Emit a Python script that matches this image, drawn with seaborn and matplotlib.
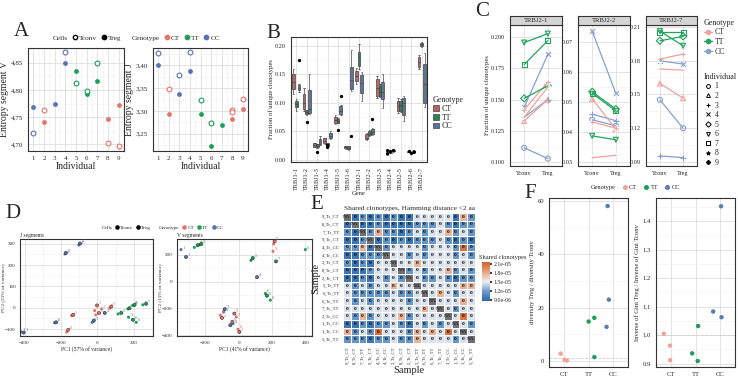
import numpy as np
import pandas as pd
import matplotlib
matplotlib.use("Agg")
import matplotlib.pyplot as plt
import seaborn as sns
from matplotlib.lines import Line2D
from matplotlib.patches import Patch
from matplotlib.ticker import FuncFormatter, AutoMinorLocator, FormatStrFormatter, NullLocator
from matplotlib.colors import LinearSegmentedColormap

sns.set_theme(style="white")
plt.rcParams['font.family'] = ['Liberation Serif', 'DejaVu Serif']

# ---------------- data ----------------
genotype_of = {1: "CC", 2: "CT", 3: "CC", 4: "CC", 5: "TT", 6: "TT", 7: "TT", 8: "CT", 9: "CT"}
genos = ["CT", "TT", "CC"]

# A: entropy per individual
a_v_ind = [1, 1, 2, 2, 3, 4, 4, 5, 5, 6, 6, 7, 7, 8, 8, 9, 9]
a_v_cells = ["Tconv", "Treg", "Tconv", "Treg", "Treg", "Tconv", "Treg", "Treg", "Tconv",
             "Tconv", "Treg", "Tconv", "Treg", "Treg", "Tconv", "Treg", "Tconv"]
a_v_val = [4.721, 4.769, 4.763, 4.742, 4.774, 4.870, 4.849, 4.835, 4.812,
           4.7985, 4.792, 4.850, 4.817, 4.747, 4.703, 4.773, 4.6975]
a_j_ind = [1, 1, 2, 2, 3, 3, 4, 4, 5, 5, 6, 6, 7, 8, 8, 8, 9, 9]
a_j_cells = ["Tconv", "Treg", "Tconv", "Treg", "Tconv", "Treg", "Tconv", "Treg", "Tconv",
             "Treg", "Tconv", "Treg", "Treg", "Tconv", "Tconv", "Treg", "Tconv", "Treg"]
a_j_val = [3.427, 3.400, 3.347, 3.293, 3.379, 3.336, 3.429, 3.387, 3.323,
           3.293, 3.274, 3.223, 3.268, 3.303, 3.298, 3.283, 3.327, 3.305]

# B: fraction of unique clonotypes per gene (min, q1, median, q3, max)
genes = ["TRBJ1-1", "TRBJ1-2", "TRBJ1-3", "TRBJ1-4", "TRBJ1-5", "TRBJ1-6", "TRBJ2-1",
         "TRBJ2-2", "TRBJ2-3", "TRBJ2-4", "TRBJ2-5", "TRBJ2-6", "TRBJ2-7"]
box_CT = [[0.116, 0.124, 0.136, 0.150, 0.160], [0.086, 0.089, 0.1005, 0.115, 0.127],
          [0.022, 0.023, 0.026, 0.029, 0.030], [0.028, 0.029, 0.033, 0.0374, 0.038],
          [0.062, 0.064, 0.070, 0.0755, 0.078], [0.019, 0.020, 0.022, 0.024, 0.025],
          [0.133, 0.139, 0.147, 0.156, 0.162], [0.034, 0.036, 0.039, 0.045, 0.047],
          [0.109, 0.112, 0.127, 0.1415, 0.148], [0.012, 0.0125, 0.013, 0.0135, 0.014],
          [0.082, 0.086, 0.095, 0.1035, 0.108], [0.013, 0.0135, 0.014, 0.0145, 0.015],
          [0.160, 0.164, 0.172, 0.180, 0.184]]
box_TT = [[0.086, 0.092, 0.098, 0.1035, 0.106], [0.079, 0.080, 0.084, 0.087, 0.088],
          [0.021, 0.0216, 0.025, 0.0275, 0.028], [0.0245, 0.0246, 0.027, 0.029, 0.0295],
          [0.064, 0.0655, 0.069, 0.0725, 0.073], [0.018, 0.0187, 0.021, 0.0245, 0.025],
          [0.159, 0.165, 0.180, 0.190, 0.203], [0.041, 0.043, 0.046, 0.051, 0.052],
          [0.110, 0.112, 0.120, 0.130, 0.133], [0.011, 0.0115, 0.012, 0.0125, 0.013],
          [0.084, 0.086, 0.097, 0.1035, 0.106], [0.011, 0.0115, 0.012, 0.0125, 0.013],
          [0.199, 0.200, 0.203, 0.206, 0.207]]
box_CC = [[0.120, 0.122, 0.127, 0.132, 0.134], [0.080, 0.083, 0.089, 0.122, 0.150],
          [0.026, 0.0275, 0.033, 0.036, 0.041], [0.036, 0.038, 0.042, 0.047, 0.051],
          [0.078, 0.080, 0.086, 0.095, 0.097], [0.121, 0.124, 0.140, 0.164, 0.193],
          [0.103, 0.118, 0.135, 0.149, 0.155], [0.044, 0.045, 0.049, 0.054, 0.055],
          [0.091, 0.1065, 0.120, 0.136, 0.150], [0.014, 0.015, 0.016, 0.017, 0.018],
          [0.068, 0.078, 0.100, 0.108, 0.112], [0.012, 0.013, 0.014, 0.015, 0.016],
          [0.092, 0.1006, 0.133, 0.168, 0.188]]
out_gene = ["TRBJ1-1", "TRBJ1-2", "TRBJ1-3", "TRBJ1-4", "TRBJ1-4", "TRBJ1-5", "TRBJ1-5", "TRBJ1-6",
            "TRBJ2-2", "TRBJ2-4", "TRBJ2-4", "TRBJ2-4", "TRBJ2-4", "TRBJ2-6", "TRBJ2-6", "TRBJ2-6", "TRBJ2-6"]
out_gen = ["CC", "TT", "TT", "TT", "TT", "TT", "CC", "CC",
           "CC", "CT", "CT", "TT", "CC", "CT", "TT", "CC", "CC"]
out_val = [0.175, 0.067, 0.014, 0.0216, 0.025, 0.0527, 0.113, 0.041,
           0.0725, 0.016, 0.010, 0.015, 0.017, 0.015, 0.012, 0.014, 0.013]

# C: fraction of unique clonotypes, Tconv vs Treg, per individual
c_ind = [1, 2, 3, 4, 5, 6, 7, 8, 9]
c_tconv = {"TRBJ2-1": [0.1116, 0.133, 0.136, 0.144, 0.151, 0.1955, 0.178, 0.136, 0.142],
           "TRBJ2-2": [0.0440, 0.0510, 0.0459, 0.0737, 0.0534, 0.0386, 0.0529, 0.0313, 0.0433],
           "TRBJ2-7": [0.1451, 0.1596, 0.0953, 0.1798, 0.1975, 0.2061, 0.2050, 0.1724, 0.1813]}
c_treg = {"TRBJ2-1": [0.103, 0.150, 0.150, 0.186, 0.161, 0.2026, 0.197, 0.160, 0.164],
          "TRBJ2-2": [0.0420, 0.0409, 0.0437, 0.0529, 0.0476, 0.0373, 0.0470, 0.0321, 0.0412],
          "TRBJ2-7": [0.1199, 0.1466, 0.0939, 0.1768, 0.2014, 0.1931, 0.2050, 0.1715, 0.1857]}

# D: PCA
dj_x = [-96, -102, -173, -178, -227, -235, -405, -420, -29, -20, -142, -133, -169, -160,
        -15, -2, 9, -9, 22, 67, 76, 40, 113, 131, 167, 176, 195, 204, 171, 195, 213, 249, 267]
dj_y = [301, 294, 257, 252, -68, -70, -116, -113, -68, -60, -37, -33, -113, -103,
        -13, 11, -24, -33, -5, -2, 6, -24, -29, -24, -5, -2, 11, 14, -44, -56, -68, 14, 19]
dj_ind = [4, 4, 3, 3, 1, 1, 1, 1, 3, 3, 2, 2, 8, 8, 9, 2, 9, 8, 2, 9, 9, 4, 5, 5, 7, 7, 6, 6, 5, 6, 6, 7, 7]
dj_cells = ["Treg", "Tconv", "Treg", "Tconv", "Treg", "Tconv", "Treg", "Tconv", "Tconv", "Treg",
            "Tconv", "Treg", "Tconv", "Treg", "Tconv", "Treg", "Treg", "Tconv", "Tconv", "Tconv",
            "Treg", "Treg", "Tconv", "Treg", "Tconv", "Treg", "Tconv", "Treg", "Tconv", "Treg",
            "Tconv", "Tconv", "Treg"]
dv_x = [-266, -246, -236, -224, -346, -316, 210, 216, 206, 74, 84, 224, 400, 110,
        160, 170, 190, -84, -90, -34, -50, -110, -100, -26, -14, -38, -4, 4]
dv_y = [255, 270, 275, 280, 238, 183, 280, 300, 225, 158, 175, 150, 238, 33,
        -88, -105, -138, -205, -225, -313, -325, -250, -270, -238, -263, -300, -355, -375]
dv_ind = [7, 7, 5, 5, 1, 1, 8, 8, 9, 5, 5, 7, 6, 4, 6, 6, 6, 3, 3, 4, 4, 2, 2, 9, 9, 8, 8, 2]
dv_cells = ["Tconv", "Treg", "Tconv", "Treg", "Tconv", "Treg", "Tconv", "Treg", "Tconv", "Tconv",
            "Treg", "Treg", "Tconv", "Treg", "Tconv", "Treg", "Tconv", "Treg", "Tconv", "Tconv",
            "Treg", "Tconv", "Treg", "Treg", "Tconv", "Treg", "Tconv", "Treg"]

# E: shared clonotypes (x 1e-6)
samples = ["9_Tr_CT", "8_Tr_CT", "7_Tr_TT", "9_Tc_CT", "4_Tr_CC", "4_Tc_CC", "2_Tr_CT", "8_Tc_CT",
           "2_Tc_CT", "5_Tr_TT", "6_Tr_TT", "6_Tc_TT", "7_Tc_TT", "3_Tr_CC", "1_Tr_CC", "1_Tc_CC", "5_Tc_TT"]
shared = [
    [np.nan, 9.5, 11.5, 9.5, 11.5, 9.5, 11.5, 9.5, 9.5, 14.5, 14.5, 14.5, 14.5, 14.5, 9.5, 17.5, 11.5],
    [9.5, np.nan, 9.5, 9.5, 11.5, 9.5, 9.5, 9.5, 9.5, 11.5, 11.5, 11.5, 14.5, 11.5, 9.5, 11.5, 11.5],
    [11.5, 9.5, np.nan, 11.5, 17.5, 11.5, 11.5, 9.5, 11.5, 14.5, 11.5, 14.5, 14.5, 17.5, 11.5, 14.5, 11.5],
    [9.5, 9.5, 11.5, np.nan, 9.5, 11.5, 9.5, 11.5, 9.5, 11.5, 11.5, 11.5, 14.5, 11.5, 9.5, 11.5, 9.5],
    [11.5, 11.5, 17.5, 9.5, np.nan, 11.5, 14.5, 14.5, 14.5, 14.5, 11.5, 14.5, 14.5, 14.5, 11.5, 20.5, 11.5],
    [9.5, 9.5, 11.5, 11.5, 11.5, np.nan, 14.5, 14.5, 11.5, 14.5, 11.5, 14.5, 14.5, 14.5, 11.5, 14.5, 11.5],
    [11.5, 9.5, 11.5, 9.5, 14.5, 14.5, np.nan, 14.5, 14.5, 17.5, 14.5, 14.5, 14.5, 14.5, 14.5, 14.5, 14.5],
    [9.5, 9.5, 9.5, 11.5, 14.5, 14.5, 14.5, np.nan, 11.5, 14.5, 11.5, 14.5, 14.5, 17.5, 11.5, 14.5, 11.5],
    [9.5, 9.5, 11.5, 9.5, 14.5, 11.5, 14.5, 11.5, np.nan, 14.5, 11.5, 11.5, 14.5, 11.5, 9.5, 11.5, 11.5],
    [14.5, 11.5, 14.5, 11.5, 14.5, 14.5, 17.5, 14.5, 14.5, np.nan, 14.5, 14.5, 14.5, 14.5, 14.5, 17.5, 17.5],
    [14.5, 11.5, 11.5, 11.5, 11.5, 11.5, 14.5, 11.5, 11.5, 14.5, np.nan, 14.5, 17.5, 14.5, 11.5, 14.5, 14.5],
    [14.5, 11.5, 14.5, 11.5, 14.5, 14.5, 14.5, 14.5, 11.5, 14.5, 14.5, np.nan, 14.5, 14.5, 14.5, 17.5, 14.5],
    [14.5, 14.5, 14.5, 14.5, 14.5, 14.5, 14.5, 14.5, 14.5, 14.5, 17.5, 14.5, np.nan, 14.5, 11.5, 14.5, 14.5],
    [14.5, 11.5, 17.5, 11.5, 14.5, 14.5, 14.5, 17.5, 11.5, 14.5, 14.5, 14.5, 14.5, np.nan, 14.5, 20.5, 14.5],
    [9.5, 9.5, 11.5, 9.5, 11.5, 11.5, 14.5, 11.5, 9.5, 14.5, 11.5, 14.5, 11.5, 14.5, np.nan, 14.5, 11.5],
    [17.5, 11.5, 14.5, 11.5, 20.5, 14.5, 14.5, 14.5, 11.5, 17.5, 14.5, 17.5, 14.5, 20.5, 14.5, np.nan, 14.5],
    [11.5, 11.5, 11.5, 9.5, 11.5, 11.5, 14.5, 11.5, 11.5, 17.5, 14.5, 14.5, 14.5, 14.5, 11.5, 14.5, np.nan],
]

# F: Treg / Tconv ratios per individual
f_gen = ["CT", "CT", "CT", "TT", "TT", "TT", "CC", "CC", "CC"]
f_div = [0.5, 0.2, 2.8, 14.8, 16.2, 1.5, 58.0, 23.0, 12.8]
f_gini = [0.963, 1.005, 0.912, 0.909, 0.936, 1.032, 1.063, 1.083, 1.453]

# ---------------- style ----------------
pal = {"CT": "#E5746C", "TT": "#1E9E5A", "CC": "#5873B4"}
pal_box = {"CT": "#BC605B", "TT": "#2E8452", "CC": "#56739F"}
pal_c = {"CT": "#F2A29C", "TT": "#22A45D", "CC": "#86A0D2"}
pal_f = {"CT": "#F2A29C", "TT": "#1E9E5A", "CC": "#5B7DB5"}
ind_markers = {1: "o", 2: "^", 3: "+", 4: "x", 5: "D", 6: "v", 7: "s", 8: "*", 9: "P"}
open_markers = {"o", "^", "D", "v", "s"}

W, H = 738, 377
fig = plt.figure(figsize=(W / 100, H / 100), dpi=100)


def px_axes(x0, y0, x1, y1):
    return fig.add_axes([x0 / W, 1 - y1 / H, (x1 - x0) / W, (y1 - y0) / H])


def bw(ax, fs=5, minor=True):
    ax.set_facecolor("white")
    for s in ax.spines.values():
        s.set_visible(True)
        s.set_color("#333333")
        s.set_linewidth(0.8)
    if minor:
        ax.xaxis.set_minor_locator(AutoMinorLocator(2))
        ax.yaxis.set_minor_locator(AutoMinorLocator(2))
        ax.grid(True, which="minor", color="#F0F0F0", lw=0.4)
    ax.grid(True, which="major", color="#DEDEDE", lw=0.6)
    ax.tick_params(which="major", labelsize=fs, length=2, width=0.5, color="#333333", pad=1.5)
    ax.tick_params(which="minor", length=0)
    ax.set_axisbelow(True)


def row_legend(x, y, fs, first_title, first_items, open_first=True):
    hs, ls = [Line2D([], [], ls="none")], [first_title]
    for i, name in enumerate(first_items):
        if open_first and i == 0:
            hs.append(Line2D([], [], ls="none", marker="o", mfc="white", mec="black", ms=fs * 0.6))
        else:
            hs.append(Line2D([], [], ls="none", marker="o", color="black", ms=fs * 0.6))
        ls.append(name)
    hs.append(Line2D([], [], ls="none"))
    ls.append("Genotype")
    for g in genos:
        hs.append(Line2D([], [], ls="none", marker="o", color=pal[g], ms=fs * 0.6))
        ls.append(g)
    fig.legend(hs, ls, loc="center", bbox_to_anchor=(x / W, 1 - y / H), ncol=len(hs), frameon=False,
               fontsize=fs, handlelength=0.7, handletextpad=0.2, columnspacing=0.6, borderpad=0)


def letter(x, y, s):
    fig.text(x / W, 1 - y / H, s, fontsize=15, ha="left", va="center")

# ---------------- A ----------------
comma = FuncFormatter(lambda v, p: f"{v:.2f}".replace(".", ","))
dfv = pd.DataFrame({"ind": a_v_ind, "cells": a_v_cells, "val": a_v_val})
dfj = pd.DataFrame({"ind": a_j_ind, "cells": a_j_cells, "val": a_j_val})
for df, box, lab, ylim, ticks in [
        (dfv, (28, 48, 124, 151), "Entropy segment V", (4.688, 4.877), [4.70, 4.75, 4.80, 4.85]),
        (dfj, (153, 48, 248, 151), "Entropy segment J", (3.212, 3.438), [3.25, 3.30, 3.35, 3.40])]:
    ax = px_axes(*box)
    df["genotype"] = df["ind"].map(genotype_of)
    for g in genos:
        sub = df[(df.genotype == g) & (df.cells == "Treg")]
        sns.scatterplot(data=sub, x="ind", y="val", color=pal[g], s=12, linewidth=0, ax=ax)
        sub = df[(df.genotype == g) & (df.cells == "Tconv")]
        sns.scatterplot(data=sub, x="ind", y="val", facecolor="white", edgecolor=pal[g],
                        s=12, linewidth=0.8, ax=ax)
    ax.set_xlim(0.5, 9.5)
    ax.set_ylim(*ylim)
    ax.set_xticks(range(1, 10))
    ax.set_yticks(ticks)
    ax.yaxis.set_major_formatter(comma)
    bw(ax, fs=5)
    ax.set_xlabel("Individual", fontsize=7, labelpad=1)
    ax.set_ylabel(lab, fontsize=7, labelpad=1)
letter(14, 31, "A")
row_legend(133, 38, 5.2, "Cells", ["Tconv", "Treg"])

# ---------------- B ----------------
rows = []
for gi, gname in enumerate(genes):
    for g, src in [("CT", box_CT), ("TT", box_TT), ("CC", box_CC)]:
        for v in src[gi]:
            rows.append((gname, g, v))
dfB = pd.DataFrame(rows, columns=["gene", "genotype", "frac"])
dfO = pd.DataFrame({"gene": out_gene, "genotype": out_gen, "frac": out_val})
axB = px_axes(291, 37, 427, 162)
sns.boxplot(data=dfB, x="gene", y="frac", hue="genotype", order=genes, hue_order=genos,
            palette=pal_box, whis=(0, 100), showfliers=False, width=0.8, linewidth=0.5,
            linecolor="#444444", legend=False, ax=axB)
sns.stripplot(data=dfO, x="gene", y="frac", hue="genotype", order=genes, hue_order=genos,
              palette={g: "black" for g in genos}, dodge=True, jitter=False, size=2.4,
              legend=False, ax=axB)
axB.set_ylim(-0.004, 0.216)
axB.set_yticks([0.0, 0.05, 0.10, 0.15, 0.20])
axB.yaxis.set_major_formatter(FormatStrFormatter("%.2f"))
bw(axB, fs=4.5)
axB.xaxis.set_minor_locator(NullLocator())
axB.yaxis.set_minor_locator(AutoMinorLocator(2))
axB.tick_params(axis="x", rotation=90)
axB.set_xlabel("Gene", fontsize=4.8, labelpad=1)
axB.set_ylabel("Fraction of unique clonotypes", fontsize=4.8, labelpad=1)
fig.legend([Patch(facecolor=pal_box[g], edgecolor="#444444", lw=0.5) for g in genos], genos,
           title="Genotype", loc="upper left", bbox_to_anchor=(429 / W, 1 - 92 / H), frameon=False,
           fontsize=5.8, title_fontsize=5.8, handlelength=0.8, handleheight=0.7, handletextpad=0.3,
           labelspacing=0.1, borderpad=0, alignment="left")
letter(266, 33, "B")

# ---------------- C ----------------
c_box = {"TRBJ2-1": (510, 562), "TRBJ2-2": (578, 630), "TRBJ2-7": (646, 697)}
c_lim = {"TRBJ2-1": (0.0971, 0.2095), "TRBJ2-2": (0.0285, 0.0758), "TRBJ2-7": (0.0864, 0.2115)}
c_ticks = {"TRBJ2-1": [0.100, 0.125, 0.150, 0.175, 0.200], "TRBJ2-2": [0.03, 0.04, 0.05, 0.06, 0.07],
           "TRBJ2-7": [0.09, 0.12, 0.15, 0.18, 0.21]}
c_fmt = {"TRBJ2-1": "%.3f", "TRBJ2-2": "%.2f", "TRBJ2-7": "%.2f"}
for k, (x0, x1) in c_box.items():
    ax = px_axes(x0, 25, x1, 166)
    dfC = pd.DataFrame({"ind": c_ind * 2, "cells": ["Tconv"] * 9 + ["Treg"] * 9,
                        "frac": c_tconv[k] + c_treg[k]})
    dfC["genotype"] = dfC["ind"].map(genotype_of)
    sns.lineplot(data=dfC, x="cells", y="frac", hue="genotype", units="ind", estimator=None,
                 palette=pal_c, lw=0.9, legend=False, sort=False, ax=ax)
    for i in c_ind:
        sub = dfC[dfC.ind == i]
        m = ind_markers[i]
        col = pal_c[genotype_of[i]]
        if m in open_markers:
            sns.scatterplot(data=sub, x="cells", y="frac", marker=m, facecolor="none",
                            edgecolor=col, s=13, linewidth=0.8, ax=ax)
        else:
            sns.scatterplot(data=sub, x="cells", y="frac", marker=m, color=col, s=13,
                            linewidth=0.8, ax=ax)
    ax.set_xlim(-0.6, 1.6)
    ax.set_ylim(*c_lim[k])
    ax.set_yticks(c_ticks[k])
    ax.yaxis.set_major_formatter(FormatStrFormatter(c_fmt[k]))
    bw(ax, fs=4.5)
    ax.xaxis.set_minor_locator(NullLocator())
    ax.set_xlabel("")
    ax.set_ylabel("Fraction of unique clonotypes" if k == "TRBJ2-1" else "", fontsize=4.8, labelpad=1)
    st = px_axes(x0, 16, x1, 25)
    st.set_facecolor("#D4D4D4")
    st.set_xticks([])
    st.set_yticks([])
    for s in st.spines.values():
        s.set_color("#333333")
        s.set_linewidth(0.8)
    st.text(0.5, 0.5, k, ha="center", va="center", fontsize=4.8, transform=st.transAxes)
letter(475, 11, "C")
fig.legend([Line2D([], [], color=pal_c[g], marker="o", lw=1, ms=3) for g in genos], genos,
           title="Genotype", loc="upper left", bbox_to_anchor=(700 / W, 1 - 15 / H), frameon=False,
           fontsize=5.6, title_fontsize=5.8, handlelength=1.1, handletextpad=0.3, labelspacing=0.2,
           borderpad=0, alignment="left")
ind_handles = []
for i in c_ind:
    m = ind_markers[i]
    if m in open_markers:
        ind_handles.append(Line2D([], [], ls="none", marker=m, mfc="none", mec="black", ms=2.8, mew=0.7))
    else:
        ind_handles.append(Line2D([], [], ls="none", marker=m, color="black", ms=2.8, mew=0.7))
fig.legend(ind_handles, [str(i) for i in c_ind], title="Individual", loc="upper left",
           bbox_to_anchor=(700 / W, 1 - 69 / H), frameon=False, fontsize=5.6, title_fontsize=5.8,
           handlelength=1.1, handletextpad=0.3, labelspacing=0.2, borderpad=0, alignment="left")

# ---------------- D ----------------
for xs, ys, inds, cells, box, xlim, ylim, xt, yt, xl, yl, sub in [
        (dj_x, dj_y, dj_ind, dj_cells, (20, 239, 153, 336), (-425, 305), (-132, 322),
         [-400, -200, 0, 200], [-100, 0, 100, 200, 300],
         "PC1 (57% of variance)", "PC2 (21% of variance)", "J segments"),
        (dv_x, dv_y, dv_ind, dv_cells, (177, 239, 312, 336), (-370, 440), (-405, 317),
         [-200, 0, 200, 400], [-400, -200, 0, 200],
         "PC1 (41% of variance)", "PC2 (15% of variance)", "V segments")]:
    ax = px_axes(*box)
    dfD = pd.DataFrame({"x": xs, "y": ys, "ind": inds, "cells": cells})
    dfD["genotype"] = dfD["ind"].map(genotype_of)
    sns.scatterplot(data=dfD[dfD.cells == "Tconv"], x="x", y="y", hue="genotype", palette=pal,
                    s=5, linewidth=0, legend=False, ax=ax)
    sns.scatterplot(data=dfD[dfD.cells == "Treg"], x="x", y="y", hue="genotype", palette=pal,
                    s=5, linewidth=0.4, edgecolor="#222222", legend=False, ax=ax)
    for _, r in dfD.iterrows():
        ax.annotate(str(r.ind), (r.x, r.y), xytext=(1.2, 0.8), textcoords="offset points",
                    fontsize=3.2, color=pal[r.genotype])
    ax.set_xlim(*xlim)
    ax.set_ylim(*ylim)
    ax.set_xticks(xt)
    ax.set_yticks(yt)
    bw(ax, fs=3.6)
    ax.tick_params(axis="y", pad=1)
    ax.set_xlabel(xl, fontsize=4, labelpad=1)
    ax.set_ylabel(yl, fontsize=3.8, labelpad=0.3)
    ax.set_title(sub, fontsize=4, loc="left", pad=1.5)
letter(5, 213, "D")
row_legend(160, 228, 3.8, "Cells", ["Tconv", "Treg"], open_first=False)

# ---------------- E ----------------
mat = np.array(shared) * 1e-6
annot = np.full(mat.shape, "0", dtype=object)
cmap = LinearSegmentedColormap.from_list("bo", ["#2D68AC", "#6E9BCB", "#EDEFF2", "#EBA17C", "#D2602A"])
axE = px_axes(343, 213, 475, 343)
cax = px_axes(482, 262, 490, 301)
sns.heatmap(mat, ax=axE, cbar_ax=cax, cmap=cmap, vmin=8.6e-6, vmax=2.15e-5, annot=annot, fmt="",
            annot_kws={"fontsize": 3.8, "fontweight": "bold", "color": "black"},
            linewidths=0.5, linecolor="white", xticklabels=samples, yticklabels=samples)
axE.set_facecolor("#6F6F6F")
for i in range(len(samples)):
    axE.text(i + 0.5, i + 0.5, "NA", ha="center", va="center", fontsize=3.8, fontweight="bold")
axE.tick_params(length=1.5, width=0.4, labelsize=3.4, pad=1)
axE.set_xticklabels(samples, rotation=90)
axE.set_yticklabels(samples, rotation=0)
axE.set_xlabel("Sample", fontsize=7.5, labelpad=1)
axE.set_ylabel("Sample", fontsize=7.5, labelpad=1)
axE.set_title("Shared clonotypes, Hamming distance <2 aa", fontsize=5.2, pad=2)
cax.set_yticks([9e-6, 1.2e-5, 1.5e-5, 1.8e-5, 2.1e-5])
cax.yaxis.set_major_formatter(FuncFormatter(lambda v, p: f"{v:.1e}"))
cax.tick_params(labelsize=4.2, length=1.5, pad=1)
fig.text(479 / W, 1 - 257 / H, "Shared clonotypes", fontsize=4.6, ha="left", va="center")
letter(310, 205, "E")

# ---------------- F ----------------
np.random.seed(3)
dfF = pd.DataFrame({"genotype": f_gen, "div": f_div, "gini": f_gini})
for col, box, ylim, ticks, lab in [
        ("div", (549, 198, 628, 367), (-2.2, 61), [0, 20, 40, 60], "diversity Treg / diversity Tconv"),
        ("gini", (656, 198, 735, 367), (0.888, 1.482), [0.9, 1.0, 1.1, 1.2, 1.3, 1.4],
         "Inverse of Gini Treg / Inverse of Gini Tconv")]:
    ax = px_axes(*box)
    ax.axhline(1, ls="--", color="#CFCFCF", lw=0.6, zorder=1)
    sns.stripplot(data=dfF, x="genotype", y=col, hue="genotype", order=genos, hue_order=genos,
                  palette=pal_f, jitter=0.3, size=3.2, legend=False, ax=ax, zorder=3)
    ax.set_xlim(-0.6, 2.6)
    ax.set_ylim(*ylim)
    ax.set_yticks(ticks)
    bw(ax, fs=4.8)
    ax.xaxis.set_minor_locator(NullLocator())
    if col == "gini":
        ax.yaxis.set_major_formatter(FormatStrFormatter("%.1f"))
    ax.set_xlabel("")
    ax.set_ylabel(lab, fontsize=4.8, labelpad=2)
letter(524, 193, "F")
hs = [Line2D([], [], ls="none")] + [Line2D([], [], ls="none", marker="o", ms=2.6, color=pal_f[g])
                                    for g in genos]
fig.legend(hs, ["Genotype"] + genos, loc="center", bbox_to_anchor=(632 / W, 1 - 187 / H), ncol=4,
           frameon=False, fontsize=4.6, handlelength=0.8, handletextpad=0.3, columnspacing=1.0, borderpad=0)

fig.savefig("out.png", dpi=100)
